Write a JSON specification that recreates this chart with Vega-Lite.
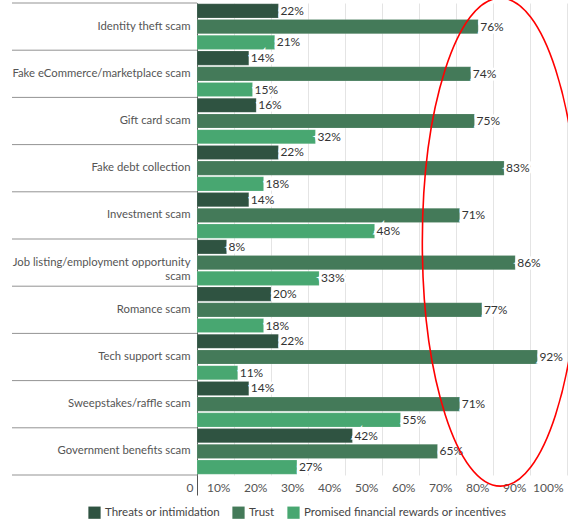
{
  "$schema": "https://vega.github.io/schema/vega-lite/v6.json",
  "width": 370,
  "height": 472,
  "autosize": {"type": "none"},
  "padding": {"left": 197, "top": 3, "right": 1, "bottom": 48},
  "config": {"font": "Lato", "view": {"stroke": null}},
  "data": {
    "values": [
      {"scam": "Identity theft scam", "type": "Threats or intimidation", "pct": 0.22},
      {"scam": "Identity theft scam", "type": "Trust", "pct": 0.76},
      {"scam": "Identity theft scam", "type": "Promised financial rewards or incentives", "pct": 0.21},
      {"scam": "Fake eCommerce/marketplace scam", "type": "Threats or intimidation", "pct": 0.14},
      {"scam": "Fake eCommerce/marketplace scam", "type": "Trust", "pct": 0.74},
      {"scam": "Fake eCommerce/marketplace scam", "type": "Promised financial rewards or incentives", "pct": 0.15},
      {"scam": "Gift card scam", "type": "Threats or intimidation", "pct": 0.16},
      {"scam": "Gift card scam", "type": "Trust", "pct": 0.75},
      {"scam": "Gift card scam", "type": "Promised financial rewards or incentives", "pct": 0.32},
      {"scam": "Fake debt collection", "type": "Threats or intimidation", "pct": 0.22},
      {"scam": "Fake debt collection", "type": "Trust", "pct": 0.83},
      {"scam": "Fake debt collection", "type": "Promised financial rewards or incentives", "pct": 0.18},
      {"scam": "Investment scam", "type": "Threats or intimidation", "pct": 0.14},
      {"scam": "Investment scam", "type": "Trust", "pct": 0.71},
      {"scam": "Investment scam", "type": "Promised financial rewards or incentives", "pct": 0.48},
      {"scam": "Job listing/employment opportunity scam", "type": "Threats or intimidation", "pct": 0.08},
      {"scam": "Job listing/employment opportunity scam", "type": "Trust", "pct": 0.86},
      {"scam": "Job listing/employment opportunity scam", "type": "Promised financial rewards or incentives", "pct": 0.33},
      {"scam": "Romance scam", "type": "Threats or intimidation", "pct": 0.20},
      {"scam": "Romance scam", "type": "Trust", "pct": 0.77},
      {"scam": "Romance scam", "type": "Promised financial rewards or incentives", "pct": 0.18},
      {"scam": "Tech support scam", "type": "Threats or intimidation", "pct": 0.22},
      {"scam": "Tech support scam", "type": "Trust", "pct": 0.92},
      {"scam": "Tech support scam", "type": "Promised financial rewards or incentives", "pct": 0.11},
      {"scam": "Sweepstakes/raffle scam", "type": "Threats or intimidation", "pct": 0.14},
      {"scam": "Sweepstakes/raffle scam", "type": "Trust", "pct": 0.71},
      {"scam": "Sweepstakes/raffle scam", "type": "Promised financial rewards or incentives", "pct": 0.55},
      {"scam": "Government benefits scam", "type": "Threats or intimidation", "pct": 0.42},
      {"scam": "Government benefits scam", "type": "Trust", "pct": 0.65},
      {"scam": "Government benefits scam", "type": "Promised financial rewards or incentives", "pct": 0.27}
    ]
  },
  "encoding": {
    "y": {
      "field": "scam",
      "type": "nominal",
      "sort": null,
      "scale": {"paddingInner": 0, "paddingOuter": 0},
      "axis": {
        "title": null,
        "grid": false,
        "domain": true,
        "domainColor": "#555",
        "ticks": false,
        "labelPadding": 7,
        "labelFontSize": 11.3,
        "labelColor": "#555",
        "labelLimit": 220,
        "labelLineHeight": 14,
        "labelExpr": "datum.value == 'Job listing/employment opportunity scam' ? ['Job listing/employment opportunity', 'scam'] : datum.value"
      }
    },
    "x": {
      "field": "pct",
      "type": "quantitative",
      "scale": {"domain": [0, 1], "clamp": false},
      "axis": {
        "title": null,
        "values": [0, 0.1, 0.2, 0.3, 0.4, 0.5, 0.6, 0.7, 0.8, 0.9, 1],
        "format": ".0%",
        "labelExpr": "datum.value === 0 ? '0' : datum.label",
        "grid": true,
        "gridColor": {"condition": {"test": "datum.value === 0", "value": "#555"}, "value": "#e4e4e4"},
        "domain": false,
        "ticks": true,
        "tickSize": 20,
        "tickColor": {"condition": {"test": "datum.value === 0", "value": "#555"}, "value": "transparent"},
        "labelAlign": "right",
        "labelOffset": -4,
        "labelPadding": -13,
        "labelFontSize": 12,
        "labelColor": "#555"
      }
    }
  },
  "layer": [
    {
      "mark": {"type": "bar", "stroke": "#ffffff", "strokeOpacity": 0.25, "strokeWidth": 0.6},
      "encoding": {
        "yOffset": {"field": "type", "sort": null, "scale": {"paddingInner": 0.1, "paddingOuter": 0.05}},
        "color": {
          "field": "type",
          "type": "nominal",
          "sort": null,
          "scale": {
            "domain": ["Threats or intimidation", "Trust", "Promised financial rewards or incentives"],
            "range": ["#2f5341", "#447a59", "#48a771"]
          },
          "legend": {
            "orient": "none",
            "legendX": -109,
            "legendY": 503,
            "direction": "horizontal",
            "title": null,
            "symbolType": "square",
            "symbolSize": 150,
            "symbolStrokeWidth": 0,
            "labelFontSize": 11.5,
            "labelColor": "#444",
            "labelLimit": 300,
            "columnPadding": 12
          }
        }
      }
    },
    {
      "mark": {"type": "text", "align": "left", "baseline": "middle", "dx": 2, "fontSize": 12, "fill": "white", "stroke": "white", "strokeWidth": 5},
      "encoding": {
        "yOffset": {"field": "type", "sort": null},
        "text": {"field": "pct", "type": "quantitative", "format": ".0%"}
      }
    },
    {
      "mark": {"type": "text", "align": "left", "baseline": "middle", "dx": 2, "fontSize": 12, "fill": "#333"},
      "encoding": {
        "yOffset": {"field": "type", "sort": null},
        "text": {"field": "pct", "type": "quantitative", "format": ".0%"}
      }
    },
    {
      "transform": [{"filter": "datum.type == 'Trust'"}],
      "mark": {"type": "rule", "stroke": "#939393", "strokeWidth": 1, "opacity": 1},
      "encoding": {
        "y": {"field": "scam", "type": "nominal", "sort": null, "bandPosition": 0},
        "x": {"datum": -0.5},
        "x2": {"datum": 0}
      }
    },
    {
      "transform": [{"filter": "datum.type == 'Trust' && datum.scam == 'Government benefits scam'"}],
      "mark": {"type": "rule", "stroke": "#939393", "strokeWidth": 1, "opacity": 1},
      "encoding": {
        "y": {"field": "scam", "type": "nominal", "sort": null, "bandPosition": 1},
        "x": {"datum": -0.5},
        "x2": {"datum": 0}
      }
    },
    {
      "transform": [{"filter": "datum.type == 'Trust' && datum.scam == 'Job listing/employment opportunity scam'"}],
      "mark": {
        "type": "point",
        "shape": "M -0.32 -0.084 C -0.32 -0.6363 -0.1767 -1.084 0 -1.084 C 0.1767 -1.084 0.32 -0.6363 0.32 -0.084 C 0.32 0.4683 0.1767 0.916 0 0.916 C -0.1767 0.916 -0.32 0.4683 -0.32 -0.084 Z",
        "size": 238144,
        "filled": false,
        "stroke": "red",
        "strokeWidth": 1.6,
        "opacity": 1
      },
      "encoding": {
        "x": {"datum": 0.82}
      }
    }
  ]
}
